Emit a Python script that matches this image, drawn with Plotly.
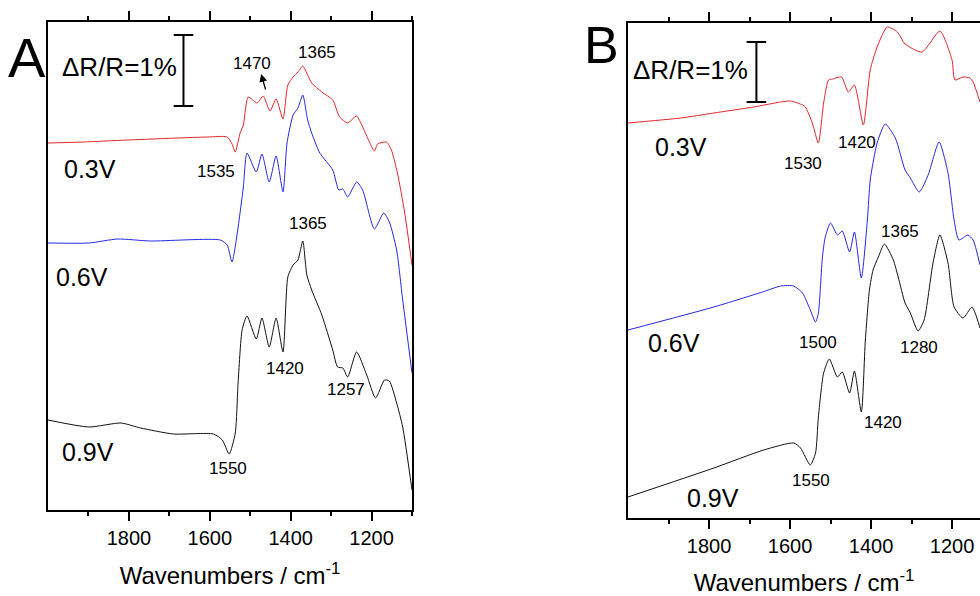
import plotly.graph_objects as go

FONT = "Liberation Sans, Arial, sans-serif"

# ---------------- Panel A data (wavenumber cm-1, signal a.u.) ----------------
a_red_x = [2000, 1912, 1803, 1606, 1557, 1545, 1537, 1525, 1517, 1505, 1483, 1468, 1451, 1436, 1419,
           1407, 1394, 1382, 1370, 1358, 1348, 1323, 1296, 1279, 1259, 1237, 1222, 1193, 1185, 1163,
           1151, 1136, 1118, 1100]
a_red_y = [367, 368, 370, 373, 373, 366, 358, 377, 385, 413, 407, 414, 399, 411, 391,
           425, 433, 438, 444, 435, 427, 418, 410, 393, 387, 394, 383, 359, 366, 368,
           360, 337, 297, 245]

a_blue_x = [2000, 1899, 1828, 1747, 1574, 1557, 1545, 1532, 1517, 1508, 1485, 1471, 1453, 1436, 1419,
            1409, 1394, 1382, 1370, 1358, 1348, 1328, 1296, 1281, 1271, 1259, 1237, 1222, 1193, 1170,
            1156, 1138, 1123, 1100]
a_blue_y = [267, 267, 271, 269, 270, 265, 248, 277, 323, 357, 338, 356, 328, 354, 318,
            367, 395, 402, 415, 390, 377, 357, 340, 320, 321, 313, 328, 320, 281, 297,
            288, 260, 210, 137]

a_black_x = [2000, 1899, 1820, 1771, 1690, 1591, 1569, 1552, 1537, 1530, 1520, 1508, 1485, 1471, 1453,
             1436, 1419, 1407, 1394, 1382, 1370, 1360, 1348, 1323, 1296, 1284, 1271, 1259, 1237, 1212,
             1190, 1168, 1156, 1138, 1123, 1100]
a_black_y = [90, 83, 87, 82, 76, 76, 70, 56, 77, 127, 180, 194, 171, 192, 163,
             192, 158, 233, 245, 250, 269, 235, 220, 195, 160, 143, 142, 133, 158, 135,
             112, 130, 129, 107, 83, 20]

# ---------------- Panel B data ----------------
b_red_x = [2000, 1870, 1788, 1690, 1623, 1599, 1569, 1562, 1545, 1530, 1517, 1505, 1495, 1473, 1456,
           1441, 1419, 1402, 1385, 1360, 1335, 1316, 1274, 1230, 1200, 1193, 1173, 1156, 1148, 1131]
b_red_y = [395, 400, 405, 411, 416, 417, 413, 411, 395, 375, 415, 438, 439, 441, 426,
           433, 393, 448, 471, 491, 486, 474, 466, 487, 458, 438, 441, 440, 436, 416]

b_blue_x = [2000, 1788, 1668, 1623, 1591, 1569, 1550, 1537, 1530, 1520, 1513, 1500, 1483, 1471, 1453,
            1441, 1424, 1409, 1402, 1385, 1365, 1340, 1316, 1303, 1281, 1259, 1232, 1210, 1195, 1183,
            1161, 1148, 1131]
b_blue_y = [188, 211, 226, 232, 232, 225, 208, 196, 205, 261, 281, 295, 283, 287, 266,
            286, 240, 298, 338, 375, 394, 380, 348, 340, 326, 343, 376, 345, 298, 278,
            283, 278, 253]

b_black_x = [2000, 1788, 1665, 1591, 1574, 1550, 1537, 1530, 1517, 1503, 1483, 1471, 1453, 1441, 1424,
             1414, 1404, 1395, 1382, 1367, 1345, 1333, 1316, 1303, 1284, 1269, 1247, 1230, 1210, 1195,
             1173, 1151, 1143, 1131]
b_black_y = [21, 50, 68, 75, 70, 53, 65, 101, 145, 159, 141, 146, 125, 147, 106,
             178, 228, 248, 261, 274, 258, 241, 215, 205, 187, 198, 255, 283, 255, 211,
             200, 211, 205, 190]

# scale bars (ΔR/R = 1 %)
a_bar_x = [1665, 1665]
a_bar_y = [404, 475]
b_bar_x = [1683, 1683]
b_bar_y = [416, 476]

RED = "#e3262a"
BLUE = "#2727e6"
BLACK = "#111111"

fig = go.Figure()

def spec(x, y, color, xa, ya):
    fig.add_trace(go.Scatter(x=x, y=y, mode="lines", xaxis=xa, yaxis=ya,
                             line=dict(color=color, width=1, shape="spline", smoothing=0.6),
                             hoverinfo="skip", showlegend=False))

spec(a_red_x, a_red_y, RED, "x", "y")
spec(a_blue_x, a_blue_y, BLUE, "x", "y")
spec(a_black_x, a_black_y, BLACK, "x", "y")
spec(b_red_x, b_red_y, RED, "x2", "y2")
spec(b_blue_x, b_blue_y, BLUE, "x2", "y2")
spec(b_black_x, b_black_y, BLACK, "x2", "y2")

for bx, by, xa, ya in [(a_bar_x, a_bar_y, "x", "y"), (b_bar_x, b_bar_y, "x2", "y2")]:
    fig.add_trace(go.Scatter(x=bx, y=by, mode="lines+markers", xaxis=xa, yaxis=ya,
                             line=dict(color="black", width=2),
                             marker=dict(symbol="line-ew", size=14, line=dict(color="black", width=2)),
                             hoverinfo="skip", showlegend=False))

xcommon = dict(
    autorange=False, showline=True, linecolor="black", linewidth=1.6, mirror="allticks",
    ticks="outside", ticklen=9, tickwidth=1.6, tickcolor="black",
    tickvals=[1800, 1600, 1400, 1200], ticktext=["1800", "1600", "1400", "1200"],
    minor=dict(tickvals=[1900, 1700, 1500, 1300, 1100], ticks="outside", ticklen=4,
               tickwidth=1.6, tickcolor="black"),
    tickfont=dict(family=FONT, size=20, color="black"),
    showgrid=False, zeroline=False,
    title=dict(text="Wavenumbers / cm<sup>-1</sup>", font=dict(family=FONT, size=24, color="black"),
               standoff=19),
)
ycommon = dict(showline=True, linecolor="black", linewidth=1.6, showticklabels=False,
               ticks="", showgrid=False, zeroline=False, autorange=False)

fig.update_layout(
    width=980, height=596, margin=dict(l=0, r=0, t=0, b=0),
    paper_bgcolor="white", plot_bgcolor="white",
    xaxis=dict(xcommon, domain=[48 / 980, 412 / 980], range=[2000, 1100], anchor="y"),
    yaxis=dict(ycommon, domain=[86 / 596, 574 / 596], range=[0, 488], mirror=True, anchor="x"),
    xaxis2=dict(xcommon, domain=[628 / 980, 1.0], range=[2000, 1131], anchor="y2"),
    yaxis2=dict(ycommon, domain=[78 / 596, 573 / 596], range=[0, 495], mirror=False, anchor="x2"),
)

def lab(text, x, y, size, xa, ya):
    fig.add_annotation(text=text, x=x, y=y, xref=xa, yref=ya, showarrow=False,
                       font=dict(family=FONT, size=size, color="black"),
                       xanchor="center", yanchor="middle")

# Panel A labels
lab("ΔR/R=1%", 1823, 443, 26, "x", "y")
lab("1470", 1495, 447, 17, "x", "y")
lab("1365", 1335, 458, 17, "x", "y")
lab("1535", 1584, 339, 17, "x", "y")
lab("1365", 1357, 287, 17, "x", "y")
lab("1420", 1414, 142, 17, "x", "y")
lab("1257", 1264, 121, 17, "x", "y")
lab("1550", 1554, 42, 17, "x", "y")
lab("0.3V", 1897, 341, 25, "x", "y")
lab("0.6V", 1916, 233, 25, "x", "y")
lab("0.9V", 1902, 58, 25, "x", "y")
fig.add_annotation(x=1473, y=436, ax=1461, ay=419, xref="x", yref="y", axref="x", ayref="y",
                   text="", showarrow=True, arrowhead=2, arrowsize=1.2, arrowwidth=1.3,
                   arrowcolor="black")

# Panel B labels
lab("ΔR/R=1%", 1845, 448, 26, "x2", "y2")
lab("0.3V", 1870, 371, 25, "x2", "y2")
lab("1530", 1567, 355, 17, "x2", "y2")
lab("1420", 1434, 376, 17, "x2", "y2")
lab("1365", 1328, 287, 17, "x2", "y2")
lab("0.6V", 1887, 175, 25, "x2", "y2")
lab("1500", 1532, 176, 17, "x2", "y2")
lab("1280", 1281, 171, 17, "x2", "y2")
lab("1420", 1370, 96, 17, "x2", "y2")
lab("1550", 1547, 38, 17, "x2", "y2")
lab("0.9V", 1789, 20, 25, "x2", "y2")

# panel letters
fig.add_annotation(text="A", x=27 / 980, y=1 - 57 / 596, xref="paper", yref="paper", showarrow=False,
                   font=dict(family=FONT, size=56, color="black"), xanchor="center", yanchor="middle")
fig.add_annotation(text="B", x=601 / 980, y=1 - 45 / 596, xref="paper", yref="paper", showarrow=False,
                   font=dict(family=FONT, size=52, color="black"), xanchor="center", yanchor="middle")

fig.write_html("out.html", config={"displayModeBar": False},
               post_script="document.body.style.margin='0px';document.body.style.overflow='hidden';")
